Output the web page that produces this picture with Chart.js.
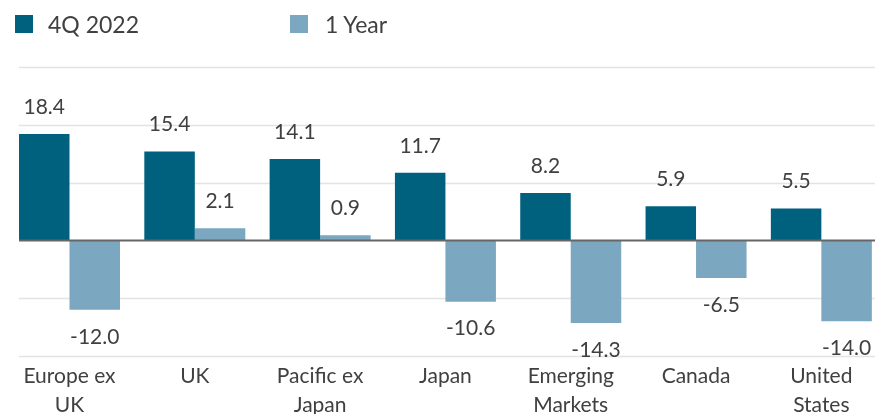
<!DOCTYPE html>
<html>
<head>
<meta charset="utf-8">
<script src="https://cdn.jsdelivr.net/npm/chart.js@4"></script>
<style>
  html, body { margin: 0; padding: 0; background: #fff; overflow: hidden; }
  #wrap { position: relative; width: 875px; height: 414px; overflow: hidden; }
  #chart { position: absolute; left: 0; top: 0; }
  .legend { position: absolute; top: 0; left: 0; font-family: Lato, sans-serif; font-size: 23px; color: #404040; }
  .item { position: absolute; top: 12px; white-space: nowrap; line-height: 24px; }
  .swatch { position: absolute; top: 3px; width: 18px; height: 18px; }
</style>
</head>
<body>
<div id="wrap">
  <canvas id="chart" width="890" height="414"></canvas>
  <div class="legend">
    <div class="swatch" style="left:15px;top:15px;background:#00617f"></div>
    <div class="item" style="left:48px">4Q 2022</div>
    <div class="swatch" style="left:290px;top:15px;background:#7ba7c0"></div>
    <div class="item" style="left:325px">1 Year</div>
  </div>
</div>
<script>
const categories = [['Europe ex', 'UK'], 'UK', ['Pacific ex', 'Japan'], 'Japan', ['Emerging', 'Markets'], 'Canada', ['United', 'States']];
const quarterValues = [18.4, 15.4, 14.1, 11.7, 8.2, 5.9, 5.5];
const yearValues = [-12.0, 2.1, 0.9, -10.6, -14.3, -6.5, -14.0];
const gridValues = [30, 20, 10, -10, -20];

const textColor = '#404040';

// light grid behind the bars, drawn from x=19 to the page edge
const gridLines = {
  id: 'gridLines',
  beforeDatasetsDraw(chart) {
    const ctx = chart.ctx;
    const y = chart.scales.y;
    ctx.save();
    ctx.strokeStyle = '#e3e3e3';
    ctx.lineWidth = 1.5;
    gridValues.forEach((v) => {
      const py = Math.round(y.getPixelForValue(v)) + 0.5;
      ctx.beginPath();
      ctx.moveTo(19, py);
      ctx.lineTo(875, py);
      ctx.stroke();
    });
    ctx.restore();
  },
  afterDatasetsDraw(chart) {
    const ctx = chart.ctx;
    const py = chart.scales.y.getPixelForValue(0);
    ctx.save();
    ctx.strokeStyle = '#666666';
    ctx.lineWidth = 2;
    ctx.beginPath();
    ctx.moveTo(19, py);
    ctx.lineTo(875, py);
    ctx.stroke();
    ctx.restore();
  }
};

const valueLabels = {
  id: 'valueLabels',
  afterDatasetsDraw(chart) {
    const ctx = chart.ctx;
    ctx.save();
    ctx.font = '21px Lato';
    ctx.fillStyle = textColor;
    ctx.textAlign = 'center';
    ctx.textBaseline = 'middle';
    chart.data.datasets.forEach((ds, i) => {
      chart.getDatasetMeta(i).data.forEach((bar, j) => {
        const v = ds.data[j];
        const ty = v >= 0 ? bar.y - 27 : bar.y + 27;
        ctx.fillText(v.toFixed(1), bar.x, ty);
      });
    });
    ctx.restore();
  }
};

new Chart(document.getElementById('chart'), {
  type: 'bar',
  data: {
    labels: categories,
    datasets: [
      { label: '4Q 2022', data: quarterValues, backgroundColor: '#00617f' },
      { label: '1 Year', data: yearValues, backgroundColor: '#7ba7c0' }
    ]
  },
  options: {
    responsive: false,
    animation: false,
    layout: { padding: { top: 67, left: 6.85, right: 6, bottom: 0 } },
    datasets: { bar: { categoryPercentage: 0.806, barPercentage: 1 } },
    plugins: { legend: { display: false }, tooltip: { enabled: false } },
    scales: {
      y: { display: false, min: -20, max: 30 },
      x: {
        grid: { display: false, drawTicks: false },
        border: { display: false },
        ticks: {
          color: textColor,
          font: { family: 'Lato', size: 21, lineHeight: 1.38 },
          padding: 6,
          maxRotation: 0,
          autoSkip: false
        },
        afterFit(scale) { scale.height = 58; }
      }
    }
  },
  plugins: [gridLines, valueLabels]
});
</script>
</body>
</html>
